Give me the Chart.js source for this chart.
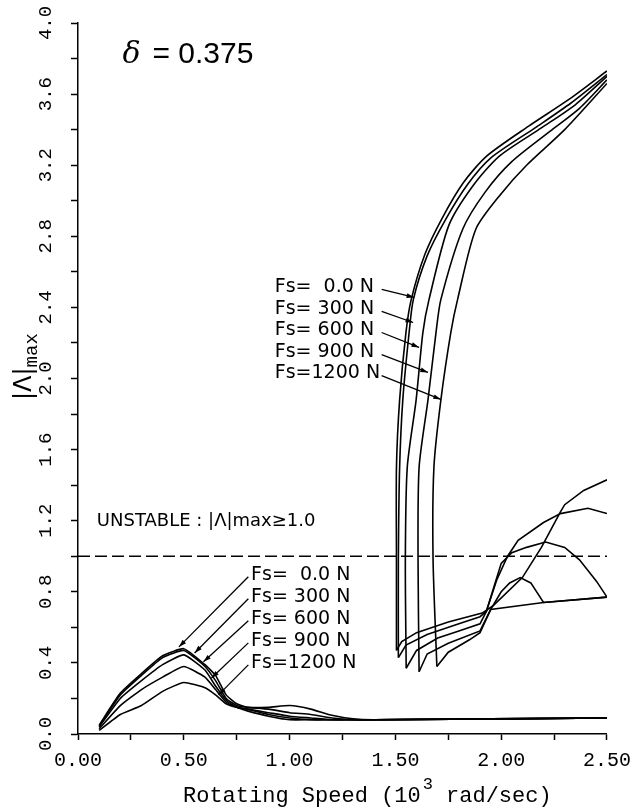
<!DOCTYPE html>
<html>
<head>
<meta charset="utf-8">
<script src="https://cdn.jsdelivr.net/npm/chart.js@4"></script>
<style>
  html, body { margin: 0; padding: 0; background: #fff; }
  #wrap { width: 640px; height: 810px; }
</style>
</head>
<body>
<div id="wrap"><canvas id="chart" width="640" height="810"></canvas></div>
<script>
// |Λ|max against rotating speed (10^3 rad/sec), delta = 0.375
const fsNames = ["Fs=  0.0 N", "Fs= 300 N", "Fs= 600 N", "Fs= 900 N", "Fs=1200 N"];

// low speed hump, same speeds for every Fs
const lowSpeeds  = [0.10, 0.20, 0.30, 0.40, 0.50, 0.60, 0.65, 0.70, 0.75, 0.80, 0.90, 1.00, 1.10, 1.20, 1.30, 1.40, 2.50];
const humpFs0    = [0.05, 0.23, 0.34, 0.44, 0.48, 0.39, 0.33, 0.22, 0.17, 0.15, 0.15, 0.16, 0.14, 0.105, 0.085, 0.08, 0.09];
const humpFs300  = [0.045, 0.22, 0.33, 0.43, 0.47, 0.38, 0.30, 0.20, 0.16, 0.15, 0.14, 0.12, 0.11, 0.09, 0.08, 0.08, 0.09];
const humpFs600  = [0.04, 0.20, 0.30, 0.39, 0.445, 0.36, 0.27, 0.19, 0.15, 0.14, 0.12, 0.10, 0.09, 0.08, 0.08, 0.08, 0.09];
const humpFs900  = [0.03, 0.16, 0.25, 0.32, 0.38, 0.32, 0.25, 0.18, 0.15, 0.13, 0.10, 0.08, 0.08, 0.08, 0.08, 0.08, 0.09];
const humpFs1200 = [0.02, 0.11, 0.16, 0.24, 0.29, 0.26, 0.22, 0.17, 0.15, 0.14, 0.11, 0.09, 0.08, 0.08, 0.08, 0.08, 0.09];

// unstable branch, [speed, |Λ|max] from the dip up to the top
const upperFs0 = [[1.505, 0.47], [1.505, 0.98], [1.505, 1.50], [1.52, 1.88], [1.55, 2.26], [1.575, 2.445], [1.64, 2.70],
  [1.72, 2.90], [1.82, 3.10], [1.93, 3.25], [2.13, 3.42], [2.32, 3.57], [2.50, 3.73]];
const upperFs300 = [[1.514, 0.43], [1.514, 0.98], [1.52, 1.50], [1.535, 1.88], [1.565, 2.26], [1.585, 2.445], [1.65, 2.69],
  [1.735, 2.89], [1.84, 3.09], [1.95, 3.24], [2.16, 3.41], [2.33, 3.55], [2.50, 3.71]];
const upperFs600 = [[1.551, 0.37], [1.547, 0.98], [1.556, 1.50], [1.598, 1.88], [1.63, 2.26], [1.659, 2.445], [1.752, 2.86],
  [1.864, 3.08], [1.99, 3.25], [2.19, 3.41], [2.35, 3.54], [2.50, 3.70]];
const upperFs900 = [[1.612, 0.35], [1.607, 0.98], [1.612, 1.50], [1.654, 1.88], [1.692, 2.26], [1.715, 2.445], [1.818, 2.84],
  [1.925, 3.05], [2.05, 3.22], [2.23, 3.39], [2.37, 3.52], [2.50, 3.68]];
const upperFs1200 = [[1.696, 0.38], [1.678, 0.98], [1.682, 1.50], [1.715, 1.88], [1.762, 2.26], [1.794, 2.445], [1.88, 2.84],
  [2.00, 3.04], [2.12, 3.20], [2.30, 3.40], [2.50, 3.66]];

// stable branch, [speed, |Λ|max] from the dip to 2.5
const lowerFs0 = [[1.505, 0.47], [1.53, 0.52], [1.60, 0.57], [1.75, 0.63], [1.91, 0.68], [1.96, 0.72], [2.10, 0.88],
  [2.19, 1.05], [2.28, 1.25], [2.30, 1.29], [2.39, 1.37], [2.50, 1.43]];
const lowerFs300 = [[1.514, 0.43], [1.55, 0.50], [1.65, 0.56], [1.80, 0.62], [1.90, 0.66], [1.93, 0.69], [1.98, 0.87],
  [2.03, 1.00], [2.08, 1.09], [2.20, 1.19], [2.28, 1.24], [2.41, 1.27], [2.50, 1.24]];
const lowerFs600 = [[1.551, 0.37], [1.60, 0.47], [1.70, 0.54], [1.80, 0.58], [1.90, 0.62], [1.93, 0.69], [2.00, 0.96],
  [2.05, 1.02], [2.12, 1.05], [2.21, 1.08], [2.30, 1.05], [2.37, 0.98], [2.45, 0.86], [2.50, 0.77]];
const lowerFs900 = [[1.612, 0.35], [1.65, 0.45], [1.75, 0.51], [1.90, 0.58], [1.95, 0.70], [2.00, 0.80], [2.04, 0.85],
  [2.09, 0.88], [2.14, 0.85], [2.20, 0.74], [2.50, 0.77]];
const lowerFs1200 = [[1.696, 0.38], [1.75, 0.46], [1.85, 0.53], [1.90, 0.57], [1.95, 0.70], [2.20, 0.74], [2.50, 0.77]];

const unstableLimit = 1.0;

const humps = [humpFs0, humpFs300, humpFs600, humpFs900, humpFs1200];
const uppers = [upperFs0, upperFs300, upperFs600, upperFs900, upperFs1200];
const lowers = [lowerFs0, lowerFs300, lowerFs600, lowerFs900, lowerFs1200];

const toPoints = (pairs) => pairs.map((p) => ({ x: p[0], y: p[1] }));

const line = (label, data, tension) => ({
    label: label,
    data: data,
    borderColor: "#000",
    borderWidth: 1.6,
    pointRadius: 0,
    tension: tension,
    fill: false,
});

const datasets = [];
humps.forEach((h, i) => {
    datasets.push(line(fsNames[i], lowSpeeds.map((x, j) => ({ x: x, y: h[j] })), 0.15));
});
uppers.forEach((u, i) => datasets.push(line(fsNames[i] + " upper", toPoints(u), 0.25)));
lowers.forEach((l, i) => datasets.push(line(fsNames[i] + " lower", toPoints(l), 0)));
datasets.push({
    label: "unstable limit",
    data: [{ x: 0, y: unstableLimit }, { x: 2.5, y: unstableLimit }],
    borderColor: "#000",
    borderWidth: 1.6,
    borderDash: [12, 5],
    pointRadius: 0,
});

function arrow(ctx, x1, y1, x2, y2) {
    ctx.beginPath();
    ctx.moveTo(x1, y1);
    ctx.lineTo(x2, y2);
    ctx.stroke();
    const a = Math.atan2(y2 - y1, x2 - x1);
    ctx.beginPath();
    ctx.moveTo(x2, y2);
    ctx.lineTo(x2 - 8 * Math.cos(a - 0.3), y2 - 8 * Math.sin(a - 0.3));
    ctx.lineTo(x2 - 8 * Math.cos(a + 0.3), y2 - 8 * Math.sin(a + 0.3));
    ctx.closePath();
    ctx.fill();
}

// texts, arrows and axis titles
const notes = {
    id: "notes",
    afterDraw(chart) {
        const ctx = chart.ctx;
        const xs = chart.scales.x, ys = chart.scales.y;
        const px = (v) => xs.getPixelForValue(v);
        const py = (v) => ys.getPixelForValue(v);
        ctx.save();
        ctx.fillStyle = "#000";
        ctx.strokeStyle = "#000";
        ctx.lineWidth = 1.3;

        // delta
        ctx.textBaseline = "middle";
        ctx.font = "italic 30px 'DejaVu Serif'";
        ctx.fillText("δ", px(0.21), py(3.82));
        ctx.font = "30px 'Liberation Sans'";
        ctx.fillText("= 0.375", px(0.21) + 30, py(3.82));

        // upper labels
        ctx.font = "19px 'DejaVu Sans'";
        const upY = [2.513, 2.389, 2.27, 2.146, 2.028];
        const upTip = [[1.589, 2.456], [1.584, 2.315], [1.612, 2.175], [1.654, 2.034], [1.715, 1.882]];
        fsNames.forEach((n, i) => {
            ctx.fillText(n, px(0.93), py(upY[i]));
            arrow(ctx, px(1.435), py(upY[i]) + 2, px(upTip[i][0]), py(upTip[i][1]));
        });

        // lower labels
        const loY = [0.896, 0.772, 0.648, 0.524, 0.40];
        const loTip = [[0.477, 0.49], [0.551, 0.456], [0.593, 0.406], [0.631, 0.315], [0.664, 0.22]];
        fsNames.forEach((n, i) => {
            ctx.fillText(n, px(0.818), py(loY[i]));
            arrow(ctx, px(0.805), py(loY[i]) + 2, px(loTip[i][0]), py(loTip[i][1]));
        });

        // unstable note
        ctx.font = "18px 'DejaVu Sans'";
        ctx.fillText("UNSTABLE : |Λ|max≥1.0", px(0.089), py(1.194));

        // x title with superscript
        ctx.textBaseline = "alphabetic";
        const big = "22px 'Liberation Mono'", sup = "17px 'Liberation Mono'";
        const t1 = "Rotating Speed (10", t2 = "3", t3 = " rad/sec)";
        ctx.font = big;
        let x = 183;
        ctx.fillText(t1, x, 802);
        x += ctx.measureText(t1).width + 2;
        ctx.font = sup;
        ctx.fillText(t2, x, 789);
        x += ctx.measureText(t2).width;
        ctx.font = big;
        ctx.fillText(t3, x, 802);

        // y title with subscript
        ctx.translate(31, 400);
        ctx.rotate(-Math.PI / 2);
        ctx.font = "24px 'DejaVu Sans'";
        ctx.fillText("|Λ|", 0, 0);
        const w = ctx.measureText("|Λ|").width;
        ctx.font = "19px 'Liberation Mono'";
        ctx.fillText("max", w, 6);
        ctx.restore();
    },
};

new Chart(document.getElementById("chart").getContext("2d"), {
    type: "line",
    data: { datasets: datasets },
    plugins: [notes],
    options: {
        responsive: false,
        animation: false,
        layout: { padding: { left: 0, right: 27, top: 23, bottom: 0 } },
        plugins: { legend: { display: false }, tooltip: { enabled: false } },
        scales: {
            x: {
                type: "linear",
                min: 0,
                max: 2.5,
                afterFit: (scale) => { scale.height = 76; },
                border: { display: true, color: "#000", width: 1.5 },
                grid: { drawOnChartArea: false, tickLength: 6, tickColor: "#000", tickWidth: 1.5 },
                ticks: {
                    stepSize: 0.25,
                    autoSkip: false,
                    maxRotation: 0,
                    padding: 9,
                    color: "#000",
                    font: { family: "'Liberation Mono'", size: 20 },
                    callback: (v) => (Math.round(v * 4) % 2 === 0 ? Number(v).toFixed(2) : ""),
                },
            },
            y: {
                type: "linear",
                min: 0,
                max: 4.0,
                afterFit: (scale) => { scale.width = 78; },
                border: { display: true, color: "#000", width: 1.5 },
                grid: { drawOnChartArea: false, tickLength: 7, tickColor: "#000", tickWidth: 1.5 },
                ticks: {
                    stepSize: 0.2,
                    autoSkip: false,
                    minRotation: 90,
                    maxRotation: 90,
                    crossAlign: "center",
                    padding: 8,
                    color: "#000",
                    font: { family: "'Liberation Mono'", size: 19 },
                    callback: (v) => (Math.round(v * 5) % 2 === 0 ? Number(v).toFixed(1) : ""),
                },
            },
        },
    },
});
</script>
</body>
</html>
